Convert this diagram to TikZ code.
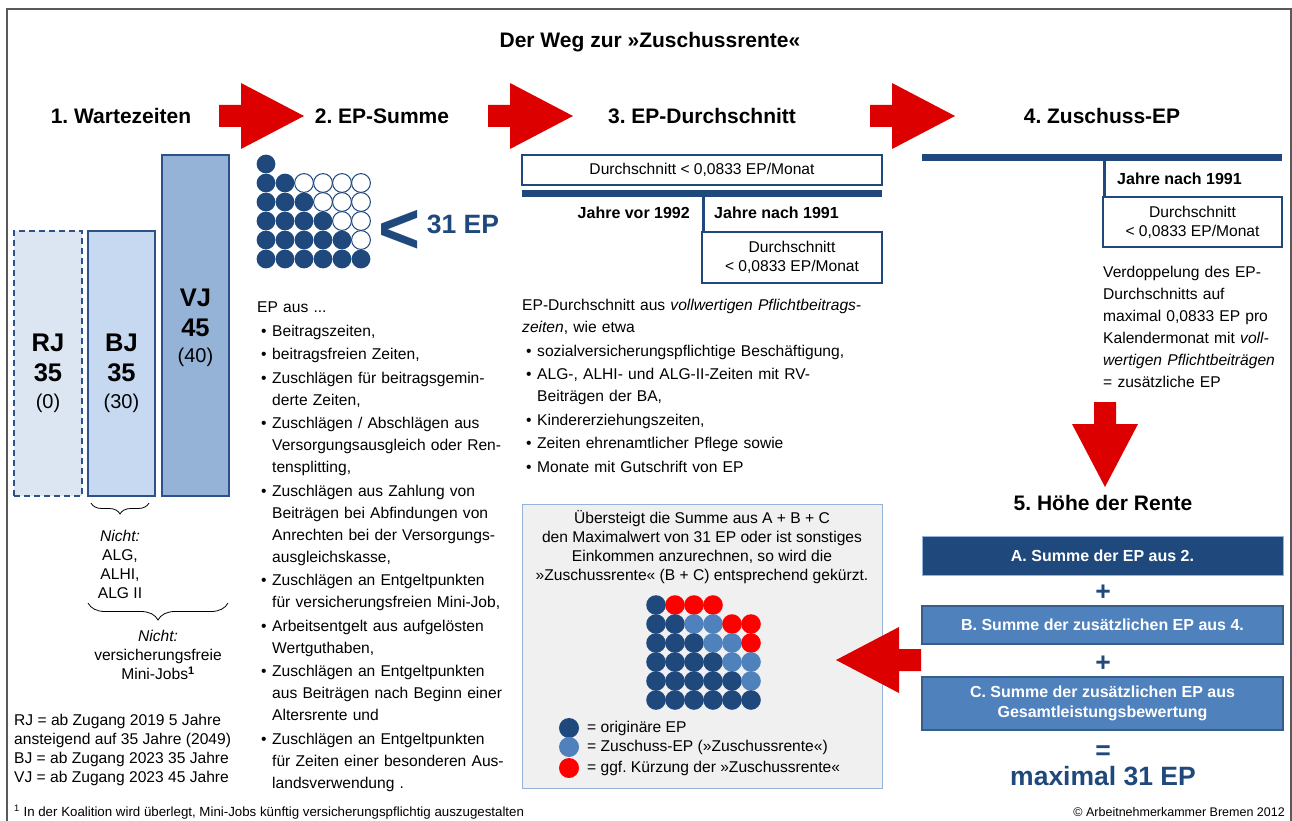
\documentclass[tikz,border=0pt]{standalone}
\usepackage{fontspec}
\setmainfont{Liberation Sans}
\usetikzlibrary{positioning,decorations.pathreplacing}
\frenchspacing

\definecolor{epdark}{HTML}{1F497D}
\definecolor{eplight}{HTML}{4F81BD}
\definecolor{epred}{HTML}{FF0000}
\definecolor{arrowred}{HTML}{DD0000}
\definecolor{barrj}{HTML}{DCE6F2}
\definecolor{barbj}{HTML}{C6D9F1}
\definecolor{barvj}{HTML}{95B3D7}
\definecolor{barline}{HTML}{2C5289}
\definecolor{boxgray}{HTML}{F0F0F0}
\definecolor{boxedge}{HTML}{95B3D7}
\definecolor{bedge}{HTML}{385D8A}

% block arrow: x, y of the shaft end, rotation
\newcommand{\redarrow}[3]{\fill[arrowred, shift={(#1,#2)}, rotate=#3]
  (0,-11) -- (22,-11) -- (22,-33) -- (85,0) -- (22,33) -- (22,11) -- (0,11) -- cycle;}
% bullet item with hanging indent
\newcommand{\itm}{\par\hangindent=15pt\hangafter=1\noindent\hspace*{4pt}\makebox[11pt][l]{\textbullet}}

\begin{document}
\begin{tikzpicture}[x=1pt,y=-1pt,
  every node/.style={inner sep=0pt, font=\fontsize{15.6}{19}\selectfont},
  frame/.style={draw=gray!70!black, line width=1.5pt},
  head/.style={font=\fontsize{21}{25}\selectfont\bfseries},
  sub/.style={font=\fontsize{16}{19}\selectfont\bfseries},
  wbar/.style={draw=barline, line width=1.8pt},
  barbig/.style={font=\fontsize{25.5}{30}\selectfont\bfseries},
  barsmall/.style={font=\fontsize{20}{24}\selectfont},
  wbox/.style={draw=epdark, fill=white, line width=1.8pt, align=center},
  thickbar/.style={draw=epdark, line width=7pt},
  stem/.style={draw=epdark, line width=3.5pt},
  list/.style={align=left, font=\fontsize{15.6}{22}\selectfont,
    execute at begin node=\setlength{\parskip}{1.5pt}},
  cutbox/.style={fill=boxgray, draw=boxedge, line width=1pt},
  sumbox/.style={fill=eplight, draw=bedge, line width=1.8pt, minimum width=361pt,
    text=white, align=center, font=\fontsize{16}{20}\selectfont\bfseries},
  sign/.style={text=epdark, font=\fontsize{26.5}{30}\selectfont\bfseries},
  dotd/.style={fill=epdark},
  doto/.style={fill=white, draw=epdark, line width=1pt},
  dotl/.style={fill=eplight},
  dotr/.style={fill=epred},
  brace/.style={decorate, decoration={brace, mirror, amplitude=#1}, line width=0.8pt},
  foot/.style={font=\fontsize{12.5}{15}\selectfont}]

\useasboundingbox (0,0) rectangle (1292,821);
\draw[frame] (7,821) -- (7,9) -- (1291,9) -- (1291,821);
\node[head] (title) at (650,42) {Der Weg zur »Zuschussrente«};

% headings
\node[head] (h1) at (121,116) {1. Wartezeiten};
\node[head] (h2) at (382,116) {2. EP-Summe};
\node[head] (h3) at (702,116) {3. EP-Durchschnitt};
\node[head] (h4) at (1102,116) {4. Zuschuss-EP};

% red arrows
\redarrow{219}{116}{0}
\redarrow{488}{116}{0}
\redarrow{870}{116}{0}
\redarrow{1105}{402}{-90}

% 1. Wartezeiten
\node[wbar, fill=barrj, dash pattern=on 6pt off 4pt, minimum width=68pt, minimum height=265pt] (rj) at (48,363.5) {};
\node[wbar, fill=barbj, minimum width=67pt, minimum height=265pt] (bj) at (121.5,363.5) {};
\node[wbar, fill=barvj, minimum width=67pt, minimum height=341pt] (vj) at (195.5,325.5) {};
\node[barbig] (rjname) at (48,343) {RJ};
\node[barbig] (rjyears) at (48,373) {35};
\node[barsmall] (rjmin) at (48,403) {(0)};
\node[barbig] (bjname) at (121.5,343) {BJ};
\node[barbig] (bjyears) at (121.5,373) {35};
\node[barsmall] (bjmin) at (121.5,403) {(30)};
\node[barbig] (vjname) at (195.5,298) {VJ};
\node[barbig] (vjyears) at (195.5,328) {45};
\node[barsmall] (vjmin) at (195.5,357) {(40)};

\coordinate (b1l) at (91,503);
\coordinate (b1r) at (149,503);
\draw[brace=11pt] (b1l) -- (b1r);
\node[align=center, anchor=north] (notalg) at (120,530) {\textit{Nicht:}\\ALG,\\ALHI,\\ALG II};
\coordinate (b2l) at (88,603);
\coordinate (b2r) at (228,603);
\draw[brace=17pt] (b2l) -- (b2r);
\node[align=center, anchor=north] (notmini) at (158,630) {\textit{Nicht:}\\versicherungsfreie\\Mini-Jobs\textsuperscript{\bfseries 1}};
\node[align=left, anchor=north west] (rules) at (14,714) {RJ = ab Zugang 2019 5 Jahre\\ansteigend auf 35 Jahre (2049)\\BJ = ab Zugang 2023 35 Jahre\\VJ = ab Zugang 2023 45 Jahre};

% 2. EP-Summe
\foreach \r/\row in {0/{d},1/{d,d,o,o,o,o},2/{d,d,d,o,o,o},3/{d,d,d,d,o,o},4/{d,d,d,d,d,o},5/{d,d,d,d,d,d}}
  \foreach \k [count=\c from 0] in \row
    \path[dot\k] (266+19*\c,164+19*\r) circle[radius=9.4pt];
\node[text=epdark, font=\fontsize{72}{72}\selectfont\bfseries] (less) at (400,232) {<};
\node[sign] (sum31) at (463,224) {31 EP};
\node[list, text width=265pt, anchor=north west] (eplist) at (257,302) {EP aus ...
  \itm Beitragszeiten,
  \itm beitragsfreien Zeiten,
  \itm Zuschlägen für beitragsgemin-\newline derte Zeiten,
  \itm Zuschlägen / Abschlägen aus\newline Versorgungsausgleich oder Ren-\newline tensplitting,
  \itm Zuschlägen aus Zahlung von\newline Beiträgen bei Abfindungen von\newline Anrechten bei der Versorgungs-\newline ausgleichskasse,
  \itm Zuschlägen an Entgeltpunkten\newline für versicherungsfreien Mini-Job,
  \itm Arbeitsentgelt aus aufgelösten\newline Wertguthaben,
  \itm Zuschlägen an Entgeltpunkten\newline aus Beiträgen nach Beginn einer\newline Altersrente und
  \itm Zuschlägen an Entgeltpunkten\newline für Zeiten einer besonderen Aus-\newline landsverwendung .\par};

% 3. EP-Durchschnitt
\node[wbox, minimum width=360pt, minimum height=30pt] (avgall) at (702,170) {Durchschnitt < 0,0833 EP/Monat};
\coordinate (avgbarL) at (522,193.5);
\coordinate (avgbarR) at (882,193.5);
\draw[thickbar] (avgbarL) -- (avgbarR);
\node[wbox, minimum width=180pt, minimum height=51pt] (avgnew) at (792,257.5) {Durchschnitt\\< 0,0833 EP/Monat};
\coordinate (stem3) at (703.5,193.5);
\draw[stem] (stem3) -- (stem3 |- avgnew.north);
\node[sub, anchor=east] (before92) at (690,213) {Jahre vor 1992};
\node[sub, anchor=west] (after91) at (714,213) {Jahre nach 1991};
\node[list, text width=360pt, anchor=north west] (avglist) at (522,299) {EP-Durchschnitt aus \textit{vollwertigen Pflichtbeitrags-}\newline\textit{zeiten}, wie etwa
  \itm sozialversicherungspflichtige Beschäftigung,
  \itm ALG-, ALHI- und ALG-II-Zeiten mit RV-\newline Beiträgen der BA,
  \itm Kindererziehungszeiten,
  \itm Zeiten ehrenamtlicher Pflege sowie
  \itm Monate mit Gutschrift von EP\par};

% cut box
\node[cutbox, minimum width=360pt, minimum height=284pt] (cut) at (702,646) {};
\node[align=center, anchor=north] (cuttext) at (702,510) {Übersteigt die Summe aus A + B + C\\den Maximalwert von 31 EP oder ist sonstiges\\Einkommen anzurechnen, so wird die\\»Zuschussrente« (B + C) entsprechend gekürzt.};
\foreach \r/\row in {0/{d,r,r,r},1/{d,d,l,l,r,r},2/{d,d,d,l,l,r},3/{d,d,d,d,l,l},4/{d,d,d,d,d,l},5/{d,d,d,d,d,d}}
  \foreach \k [count=\c from 0] in \row
    \path[dot\k] (656+19*\c,605+19*\r) circle[radius=9.8pt];
\path[dotd] (569,728) circle[radius=10pt];
\path[dotl] (569,747) circle[radius=10pt];
\path[dotr] (569,768) circle[radius=10pt];
\node[anchor=west] (leg1) at (587,728) {= originäre EP};
\node[anchor=west] (leg2) at (587,747) {= Zuschuss-EP (»Zuschussrente«)};
\node[anchor=west] (leg3) at (587,768) {= ggf. Kürzung der »Zuschussrente«};
\redarrow{921}{660}{180}

% 4. Zuschuss-EP
\coordinate (zbarL) at (922,158);
\coordinate (zbarR) at (1282,158);
\draw[thickbar] (zbarL) -- (zbarR);
\node[wbox, minimum width=179pt, minimum height=50pt] (zavg) at (1192.5,222) {Durchschnitt\\< 0,0833 EP/Monat};
\coordinate (stem4) at (1104.5,158);
\draw[stem] (stem4) -- (stem4 |- zavg.north);
\node[sub, anchor=west] (z91) at (1117,179) {Jahre nach 1991};
\node[list, text width=190pt, anchor=north west] (ztext) at (1103,266) {Verdoppelung des EP-\newline Durchschnitts auf\newline maximal 0,0833 EP pro\newline Kalendermonat mit \textit{voll-}\newline\textit{wertigen Pflichtbeiträgen}\newline = zusätzliche EP};

% 5. Hoehe der Rente
\node[head] (h5) at (1103,503) {5. Höhe der Rente};
\node[sumbox, fill=epdark, draw=barvj, line width=1pt, minimum height=39pt] (sumA) at (1102.5,555.5) {A. Summe der EP aus 2.};
\node[sign] (plus1) at (1103,593) {+};
\node[sumbox, minimum height=38pt] (sumB) at (1102.5,625) {B. Summe der zusätzlichen EP aus 4.};
\node[sign] (plus2) at (1103,664) {+};
\node[sumbox, minimum height=53pt] (sumC) at (1102.5,703.5) {C. Summe der zusätzlichen EP aus\\Gesamtleistungsbewertung};
\node[sign] (equals) at (1103,753) {=};
\node[sign] (max31) at (1103,776) {maximal 31 EP};

% footer
\node[foot, font=\fontsize{13.3}{15}\selectfont, anchor=west] (footnote) at (14,812) {\textsuperscript{1} In der Koalition wird überlegt, Mini-Jobs künftig versicherungspflichtig auszugestalten};
\node[foot, anchor=east] (copyright) at (1285,812) {© Arbeitnehmerkammer Bremen 2012};
\end{tikzpicture}
\end{document}
